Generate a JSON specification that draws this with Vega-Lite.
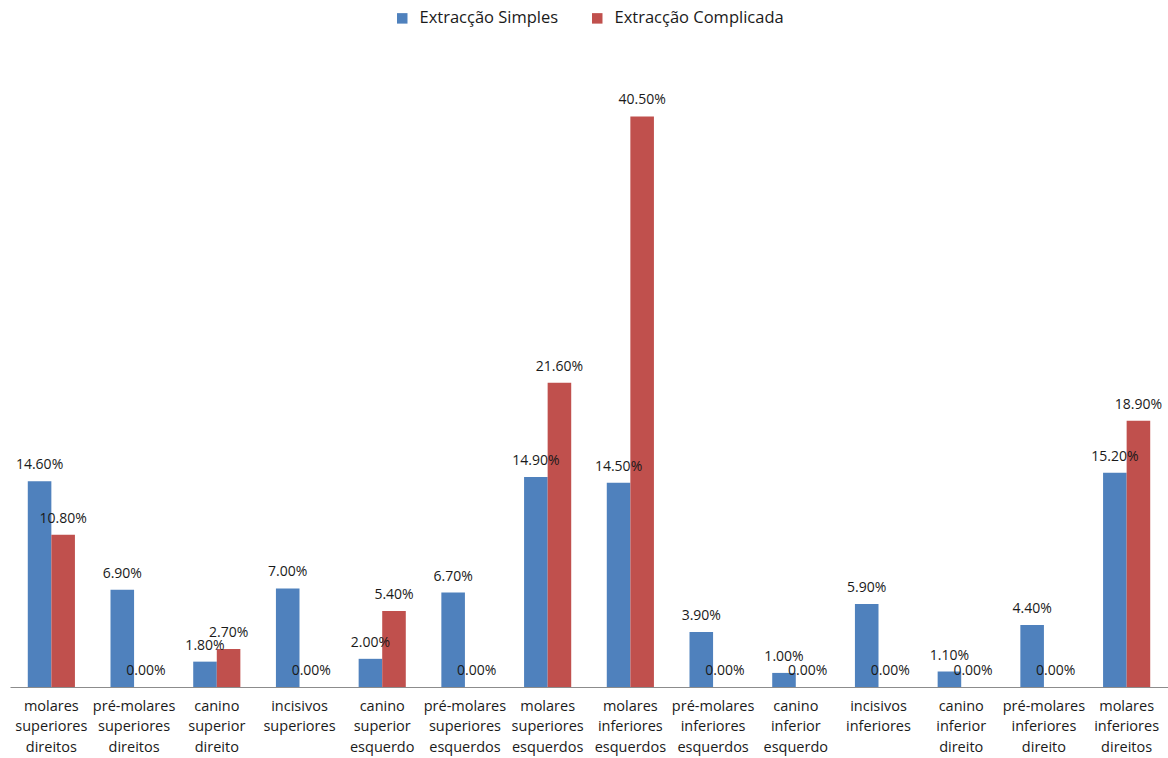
{
  "$schema": "https://vega.github.io/schema/vega-lite/v6.json",
  "autosize": {"type": "none"},
  "padding": {"left": 10, "top": 53, "right": 0, "bottom": 71},
  "width": 1158,
  "height": 634,
  "background": "white",
  "config": {
    "view": {"stroke": null},
    "font": "Open Sans"
  },
  "data": {
    "values": [
      {"dente": "molares superiores direitos", "tipo": "Extracção Simples", "valor": 0.146},
      {"dente": "molares superiores direitos", "tipo": "Extracção Complicada", "valor": 0.108},
      {"dente": "pré-molares superiores direitos", "tipo": "Extracção Simples", "valor": 0.069},
      {"dente": "pré-molares superiores direitos", "tipo": "Extracção Complicada", "valor": 0.0},
      {"dente": "canino superior direito", "tipo": "Extracção Simples", "valor": 0.018},
      {"dente": "canino superior direito", "tipo": "Extracção Complicada", "valor": 0.027},
      {"dente": "incisivos superiores", "tipo": "Extracção Simples", "valor": 0.07},
      {"dente": "incisivos superiores", "tipo": "Extracção Complicada", "valor": 0.0},
      {"dente": "canino superior esquerdo", "tipo": "Extracção Simples", "valor": 0.02},
      {"dente": "canino superior esquerdo", "tipo": "Extracção Complicada", "valor": 0.054},
      {"dente": "pré-molares superiores esquerdos", "tipo": "Extracção Simples", "valor": 0.067},
      {"dente": "pré-molares superiores esquerdos", "tipo": "Extracção Complicada", "valor": 0.0},
      {"dente": "molares superiores esquerdos", "tipo": "Extracção Simples", "valor": 0.149},
      {"dente": "molares superiores esquerdos", "tipo": "Extracção Complicada", "valor": 0.216},
      {"dente": "molares inferiores esquerdos", "tipo": "Extracção Simples", "valor": 0.145},
      {"dente": "molares inferiores esquerdos", "tipo": "Extracção Complicada", "valor": 0.405},
      {"dente": "pré-molares inferiores esquerdos", "tipo": "Extracção Simples", "valor": 0.039},
      {"dente": "pré-molares inferiores esquerdos", "tipo": "Extracção Complicada", "valor": 0.0},
      {"dente": "canino inferior esquerdo", "tipo": "Extracção Simples", "valor": 0.01},
      {"dente": "canino inferior esquerdo", "tipo": "Extracção Complicada", "valor": 0.0},
      {"dente": "incisivos inferiores", "tipo": "Extracção Simples", "valor": 0.059},
      {"dente": "incisivos inferiores", "tipo": "Extracção Complicada", "valor": 0.0},
      {"dente": "canino inferior direito", "tipo": "Extracção Simples", "valor": 0.011},
      {"dente": "canino inferior direito", "tipo": "Extracção Complicada", "valor": 0.0},
      {"dente": "pré-molares inferiores direito", "tipo": "Extracção Simples", "valor": 0.044},
      {"dente": "pré-molares inferiores direito", "tipo": "Extracção Complicada", "valor": 0.0},
      {"dente": "molares inferiores direitos", "tipo": "Extracção Simples", "valor": 0.152},
      {"dente": "molares inferiores direitos", "tipo": "Extracção Complicada", "valor": 0.189}
    ]
  },
  "encoding": {
    "x": {
      "field": "dente",
      "type": "nominal",
      "sort": null,
      "scale": {"paddingInner": 0.43, "paddingOuter": 0.215},
      "axis": {
        "title": null,
        "labelAngle": 0,
        "labelExpr": "split(datum.label, ' ')",
        "labelFontSize": 14.5,
        "labelColor": "#1a1a1a",
        "labelPadding": 12,
        "labelLineHeight": 20.5,
        "labelBaseline": "top",
        "ticks": false,
        "domainColor": "#8c8c8c",
        "labelLimit": 0
      }
    },
    "xOffset": {
      "field": "tipo",
      "type": "nominal",
      "sort": ["Extracção Simples", "Extracção Complicada"]
    },
    "y": {
      "field": "valor",
      "type": "quantitative",
      "scale": {"domain": [0, 0.45], "nice": false},
      "axis": null
    }
  },
  "layer": [
    {
      "mark": {"type": "bar"},
      "encoding": {
        "color": {
          "field": "tipo",
          "type": "nominal",
          "sort": ["Extracção Simples", "Extracção Complicada"],
          "scale": {
            "domain": ["Extracção Simples", "Extracção Complicada"],
            "range": ["#4F81BD", "#C0504D"]
          },
          "legend": {
            "title": null,
            "orient": "none",
            "direction": "horizontal",
            "legendX": 384,
            "legendY": -43,
            "symbolType": "square",
            "symbolSize": 110,
            "symbolStrokeWidth": 0,
            "labelFontSize": 16.5,
            "labelColor": "#1a1a1a",
            "labelLimit": 0,
            "columnPadding": 30,
            "labelOffset": 9
          }
        }
      }
    },
    {
      "mark": {"type": "text", "baseline": "middle", "dy": -16, "fontSize": 14, "color": "#1a1a1a"},
      "encoding": {
        "text": {"field": "valor", "type": "quantitative", "format": ".2%"}
      }
    }
  ]
}
